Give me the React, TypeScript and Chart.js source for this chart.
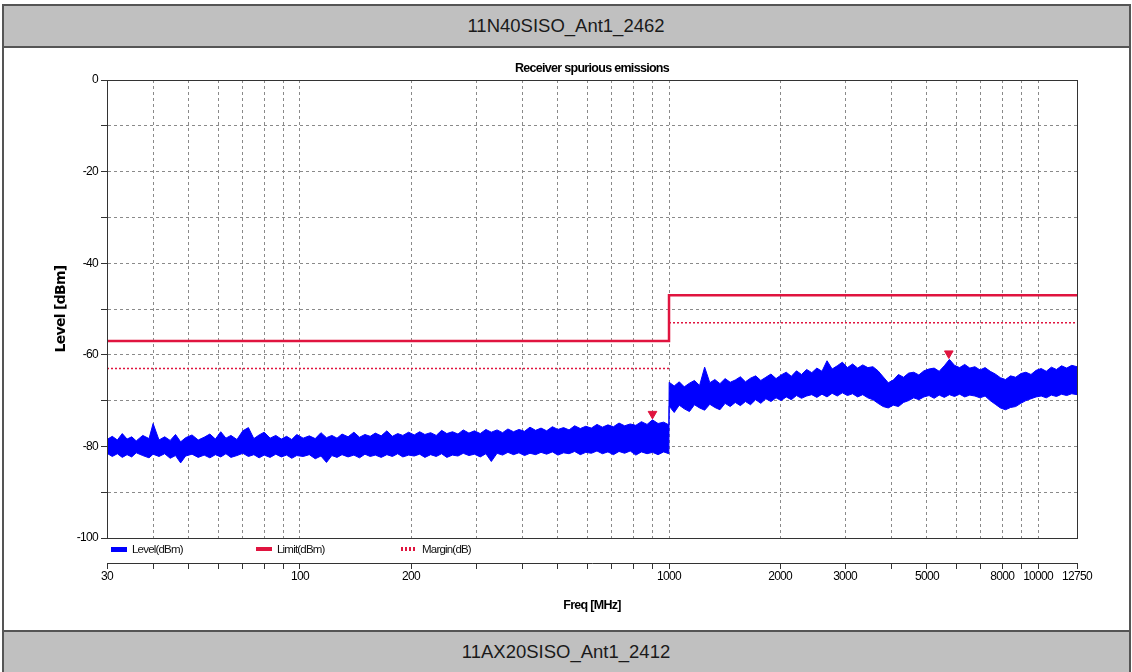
import React, { useEffect, useRef } from "react";
import { Chart, registerables } from "chart.js";

Chart.register(...registerables);

const NARROW = '"Liberation Sans", Arial, sans-serif';
const SANS = '"Liberation Sans", Arial, sans-serif';

const headerTop = "11N40SISO_Ant1_2462";
const headerBottom = "11AX20SISO_Ant1_2412";
const chartTitle = "Receiver spurious emissions";
const xTitle = "Freq [MHz]";
const yTitle = "Level [dBm]";

// Level trace (30 - 1000 MHz): upper / lower envelope of the noise band
const freqLow = [
  30, 31, 32, 33, 34, 35, 36, 37.5, 39, 40,
  41.5, 43, 44.5, 46, 47.5, 49, 51, 53, 55, 57,
  59, 61, 63, 65, 67.5, 70, 72.5, 75, 77.5, 80,
  83, 86, 89, 92, 95, 98, 102, 106, 110, 114,
  118, 122, 126, 130, 135, 140, 145, 150, 155, 160,
  166, 172, 178, 184, 190, 197, 204, 211, 218, 226,
  234, 242, 250, 259, 268, 277, 287, 297, 308, 319,
  330, 342, 354, 366, 379, 392, 406, 420, 435, 450,
  466, 483, 500, 518, 536, 555, 575, 595, 616, 638,
  660, 683, 707, 732, 758, 785, 813, 842, 872, 902,
  934, 967, 999,
];
const levelLowMax = [
  -78.5, -77.8, -78.6, -77.2, -78.4, -77.9, -78.8, -77.6, -78.3, -75.0,
  -78.6, -77.9, -78.7, -77.4, -79.0, -78.1, -77.5, -78.6, -78.0, -77.3,
  -78.4, -76.8, -78.2, -77.6, -78.5, -76.6, -75.9, -78.3, -77.5, -76.9,
  -78.2, -77.6, -78.4, -77.8, -78.5, -77.4, -78.2, -77.7, -78.3, -77.0,
  -78.1, -77.6, -78.2, -77.3, -77.9, -76.9, -78.0, -77.4, -77.8, -77.1,
  -77.7, -76.6, -77.8, -77.2, -77.6, -76.9, -77.5, -76.8, -77.4, -77.0,
  -77.6, -76.5, -77.2, -76.8, -77.3, -76.4, -77.1, -76.6, -77.2, -76.3,
  -76.9, -76.4, -77.0, -76.2, -76.8, -76.3, -76.7, -75.8, -76.5, -76.0,
  -76.6, -75.7, -76.3, -75.9, -76.4, -75.5, -76.1, -75.6, -76.0, -75.2,
  -75.8, -75.3, -75.7, -74.9, -75.5, -75.1, -75.4, -74.6, -75.2, -74.2,
  -75.0, -74.7, -75.3,
];
const levelLowMin = [
  -81.5, -82.2, -81.6, -82.4, -81.8, -82.3, -81.4, -82.0, -82.5, -81.7,
  -82.2, -81.6, -82.6, -82.0, -83.6, -82.1, -81.7, -82.4, -81.9, -82.5,
  -81.8, -82.3, -81.6, -82.4, -82.0, -81.5, -82.2, -81.8, -82.5, -81.9,
  -82.4, -81.7, -82.3, -81.9, -82.6, -82.0, -82.2, -81.8, -82.7, -82.1,
  -83.5, -82.0, -82.4, -81.8, -82.3, -81.9, -82.5, -81.7, -82.2, -81.9,
  -82.4, -81.8, -82.2, -81.6, -82.3, -81.9, -82.1, -81.7, -82.4, -81.8,
  -82.2, -81.6, -82.4, -81.9, -82.1, -81.5, -82.0, -81.7, -82.3, -81.6,
  -83.3, -81.5, -81.9, -81.3, -81.8, -81.4, -82.0, -81.5, -81.8, -81.3,
  -81.7, -81.2, -81.9, -81.4, -81.6, -81.1, -81.8, -81.3, -81.5, -81.0,
  -81.6, -81.2, -81.8, -81.1, -81.5, -81.0, -81.9, -81.2, -81.6, -81.3,
  -81.8, -81.2, -81.6,
];

// Level trace (1000 - 12750 MHz)
const freqHigh = [
  1001, 1033, 1066, 1100, 1136, 1172, 1210, 1249, 1290, 1331,
  1374, 1419, 1465, 1512, 1561, 1611, 1663, 1717, 1773, 1830,
  1889, 1950, 2013, 2078, 2145, 2215, 2286, 2360, 2437, 2515,
  2597, 2680, 2767, 2857, 2949, 3044, 3143, 3244, 3349, 3457,
  3569, 3685, 3804, 3927, 4054, 4185, 4320, 4460, 4604, 4753,
  4906, 5065, 5229, 5397, 5572, 5752, 5938, 6130, 6328, 6532,
  6743, 6961, 7186, 7418, 7658, 7906, 8161, 8425, 8697, 8978,
  9268, 9568, 9877, 10196, 10526, 10866, 11217, 11580, 11954, 12340,
  12750,
];
const levelHighMax = [
  -66.0, -66.8, -65.9, -67.0, -66.2, -65.6, -66.7, -62.7, -66.1, -65.4,
  -66.3, -65.2, -66.0, -65.5, -64.8, -65.9, -65.1, -64.6, -65.6, -64.9,
  -64.2, -65.2, -64.4, -63.8, -64.7, -63.5, -64.3, -63.2, -63.9, -62.9,
  -63.6, -61.3, -63.1, -62.4, -61.6, -62.8, -62.0, -62.9, -62.2, -62.8,
  -62.6, -63.5, -64.8, -66.1, -65.5, -64.3, -64.9, -64.0, -63.8, -64.4,
  -63.5, -63.1, -62.9, -63.6, -62.4, -61.0, -62.3, -62.8, -62.1, -62.9,
  -62.6, -63.3, -62.8, -63.6, -64.2, -65.0, -65.4, -64.6, -64.9, -64.1,
  -63.8, -64.3, -63.4, -63.0, -63.6, -62.7, -63.2, -62.4, -62.9, -62.3,
  -62.6,
];
const levelHighMin = [
  -71.2, -72.6, -71.0, -71.8, -72.4, -70.9, -71.6, -72.1, -70.8, -71.5,
  -72.0, -70.6, -71.3, -70.4, -71.1, -70.2, -70.9, -69.8, -70.6, -69.6,
  -70.2, -69.4, -70.0, -69.2, -69.8, -68.9, -69.5, -69.0, -68.7, -69.3,
  -68.6, -69.2, -68.4, -69.0, -68.3, -68.9, -68.5, -69.2, -68.7, -69.4,
  -69.8, -70.6, -71.3, -71.6, -71.0, -71.3, -70.4, -70.0, -69.4, -69.8,
  -69.2, -68.9, -69.5, -68.8, -69.3, -68.7, -69.1, -68.6, -69.2, -68.8,
  -69.0, -69.4, -69.0, -70.0, -70.8, -71.6, -72.0, -71.5, -71.3, -70.6,
  -70.0, -69.6, -69.2, -69.0, -69.4, -68.8, -69.1, -68.6, -68.9, -68.5,
  -68.7,
];

const limitFreq = [30, 1000, 1000, 12750];
const limitLevel = [-57, -57, -47, -47];
const marginFreq = [30, 1000, 1000, 1000, 12750];
const marginLevel: (number | null)[] = [-63, -63, null, -53, -53];
const peakFreq = [902, 5730];
const peakLevel = [-72.9, -59.7];

const xGridValues = [
  40, 50, 60, 70, 80, 90, 100, 200, 300, 400, 500, 600, 700, 800, 900,
  1000, 2000, 3000, 4000, 5000, 6000, 7000, 8000, 9000, 10000,
];
const xTickValues = [30, ...xGridValues, 12750];
const xTickLabels = [30, 100, 200, 1000, 2000, 3000, 5000, 8000, 10000, 12750];
const xMin = 30;
const xMax = 12750;
const yMin = -100;
const yMax = 0;
const yStep = 10;
const yLabelStep = 20;

const legendLabels = ["Level(dBm)", "Limit(dBm)", "Margin(dB)"];

const BLUE = "#0000ff";
const RED = "#e0143f";
const GRID = "#8a8a8a";
const AXIS = "#333333";
const SPACING = "-0.7px";

const spacingPlugin = {
  id: "spacing",
  beforeUpdate(chart: any) {
    chart.ctx.letterSpacing = SPACING;
  },
  beforeDraw(chart: any) {
    chart.ctx.letterSpacing = SPACING;
  },
};

const framePlugin = {
  id: "frame",
  afterDatasetsDraw(chart: any) {
    const { ctx, chartArea: a } = chart;
    ctx.save();
    ctx.strokeStyle = AXIS;
    ctx.lineWidth = 1;
    ctx.strokeRect(
      Math.round(a.left) + 0.5,
      Math.round(a.top) + 0.5,
      Math.round(a.right - a.left),
      Math.round(a.bottom - a.top)
    );
    ctx.restore();
  },
};

export default function App() {
  const ref = useRef<HTMLCanvasElement>(null);

  useEffect(() => {
    const canvas = ref.current!;
    const bandFreq = freqLow.concat(freqHigh);
    const bandMax = levelLowMax.concat(levelHighMax);
    const bandMin = levelLowMin.concat(levelHighMin);
    const chart = new Chart(canvas, {
      type: "line",
      data: {
        datasets: [
          {
            label: "Peak",
            data: peakFreq.map((f, i) => ({ x: f, y: peakLevel[i] })),
            showLine: false,
            pointStyle: "triangle",
            rotation: 180,
            pointRadius: 5,
            pointBackgroundColor: RED,
            pointBorderColor: RED,
            pointBorderWidth: 1,
            order: 0,
          },
          {
            label: legendLabels[1],
            data: limitFreq.map((f, i) => ({ x: f, y: limitLevel[i] })),
            borderColor: RED,
            borderWidth: 2.5,
            pointRadius: 0,
            fill: false,
            order: 1,
          },
          {
            label: legendLabels[2],
            data: marginFreq.map((f, i) => ({ x: f, y: marginLevel[i] })),
            borderColor: RED,
            borderWidth: 1.5,
            borderDash: [2, 2],
            pointRadius: 0,
            fill: false,
            spanGaps: false,
            order: 2,
          },
          {
            label: "Level max",
            data: bandFreq.map((f, i) => ({ x: f, y: bandMax[i] })),
            borderColor: BLUE,
            borderWidth: 1,
            pointRadius: 0,
            fill: false,
            order: 3,
          },
          {
            label: "Level min",
            data: bandFreq.map((f, i) => ({ x: f, y: bandMin[i] })),
            borderColor: BLUE,
            backgroundColor: BLUE,
            borderWidth: 1,
            pointRadius: 0,
            fill: "-1",
            order: 4,
          },
        ],
      },
      options: {
        responsive: false,
        animation: false,
        devicePixelRatio: 1,
        layout: { padding: 0 },
        elements: { line: { tension: 0 } },
        plugins: {
          legend: { display: false },
          tooltip: { enabled: false },
          title: {
            display: true,
            text: chartTitle,
            color: "#000",
            font: { family: NARROW, size: 12.5, weight: "bold" },
            padding: { top: 12, bottom: 4 },
          },
        },
        scales: {
          x: {
            type: "logarithmic",
            position: "bottom",
            min: xMin,
            max: xMax,
            weight: 0,
            afterBuildTicks: (s: any) => {
              s.ticks = xGridValues.map((v) => ({ value: v }));
            },
            afterFit: (s: any) => {
              s.height = 25;
            },
            ticks: { display: false },
            grid: { color: GRID, lineWidth: 1, drawTicks: false },
            border: { display: true, color: AXIS, width: 1, dash: [3, 3] },
          },
          x2: {
            type: "logarithmic",
            position: "bottom",
            min: xMin,
            max: xMax,
            weight: 1,
            afterBuildTicks: (s: any) => {
              s.ticks = xTickValues.map((v) => ({ value: v }));
            },
            afterFit: (s: any) => {
              s.height = 67;
            },
            ticks: {
              autoSkip: false,
              maxRotation: 0,
              minRotation: 0,
              padding: 0,
              color: "#000",
              font: { family: NARROW, size: 12 },
              callback: (v: any) => (xTickLabels.includes(Number(v)) ? String(v) : ""),
            },
            grid: { drawOnChartArea: false, drawTicks: true, tickLength: 6, tickColor: AXIS, color: AXIS },
            border: { display: true, color: AXIS, width: 1 },
            title: {
              display: true,
              text: xTitle,
              color: "#000",
              font: { family: NARROW, size: 12.5, weight: "bold" },
              padding: { top: 0, bottom: 17 },
            },
          },
          y: {
            type: "linear",
            position: "left",
            min: yMin,
            max: yMax,
            afterFit: (s: any) => {
              s.width = 57;
            },
            ticks: {
              stepSize: yStep,
              autoSkip: false,
              padding: 3,
              color: "#000",
              font: { family: NARROW, size: 12 },
              callback: (v: any) => (Number(v) % yLabelStep === 0 ? String(v) : ""),
            },
            grid: { color: GRID, lineWidth: 1, drawTicks: true, tickLength: 6, tickColor: AXIS },
            border: { display: true, color: AXIS, width: 1, dash: [3, 3] },
            title: {
              display: true,
              text: yTitle,
              color: "#000",
              font: { family: '"DejaVu Sans", sans-serif', size: 14, weight: "bold" },
              padding: { top: 3, bottom: 0 },
            },
          },
          yRight: {
            type: "linear",
            position: "right",
            min: yMin,
            max: yMax,
            afterFit: (s: any) => {
              s.width = 57;
            },
            ticks: { display: false },
            grid: { display: false, drawOnChartArea: false, drawTicks: false },
            border: { display: false },
          },
        },
      },
      plugins: [spacingPlugin, framePlugin],
    } as any);
    return () => chart.destroy();
  }, []);

  const border = "#555555";
  const headerStyle: React.CSSProperties = {
    position: "absolute",
    left: 2,
    width: 1128,
    height: 40,
    background: "#c0c0c0",
    color: "#1a1a1a",
    font: `18.5px ${SANS}`,
    lineHeight: "40px",
    textAlign: "center",
  };
  const legendSwatches: React.CSSProperties[] = [
    { background: BLUE, height: 5, top: 547 },
    { background: RED, height: 4, top: 547 },
    {
      background: `repeating-linear-gradient(90deg, ${RED} 0 2px, transparent 2px 4px)`,
      height: 4,
      top: 547,
    },
  ];
  const legendX = [111, 256, 401];

  return (
    <div
      style={{
        position: "absolute",
        left: 0,
        top: 0,
        width: 1132,
        height: 672,
        overflow: "hidden",
        background: "#fff",
      }}
    >
      <div style={{ ...headerStyle, top: 6 }}>{headerTop}</div>
      <div style={{ ...headerStyle, top: 632 }}>{headerBottom}</div>
      <div style={{ position: "absolute", left: 50, top: 49, width: 1084, height: 581 }}>
        <canvas ref={ref} width={1084} height={581} style={{ display: "block" }} />
      </div>
      {legendLabels.map((lab, i) => (
        <React.Fragment key={lab}>
          <div
            style={{
              position: "absolute",
              left: legendX[i],
              width: 16,
              ...legendSwatches[i],
            }}
          />
          <div
            style={{
              position: "absolute",
              left: legendX[i] + 21,
              top: 542,
              font: `11.5px ${NARROW}`,
              letterSpacing: "-0.8px",
              lineHeight: "14px",
              color: "#111",
              whiteSpace: "nowrap",
            }}
          >
            {lab}
          </div>
        </React.Fragment>
      ))}
      {/* table borders */}
      <div style={{ position: "absolute", left: 2, top: 4, width: 1128, height: 2, background: border }} />
      <div style={{ position: "absolute", left: 2, top: 46, width: 1128, height: 2, background: border }} />
      <div style={{ position: "absolute", left: 2, top: 630, width: 1128, height: 2, background: border }} />
      <div style={{ position: "absolute", left: 2, top: 4, width: 2, height: 668, background: border }} />
      <div style={{ position: "absolute", left: 1129, top: 4, width: 2, height: 668, background: border }} />
    </div>
  );
}
